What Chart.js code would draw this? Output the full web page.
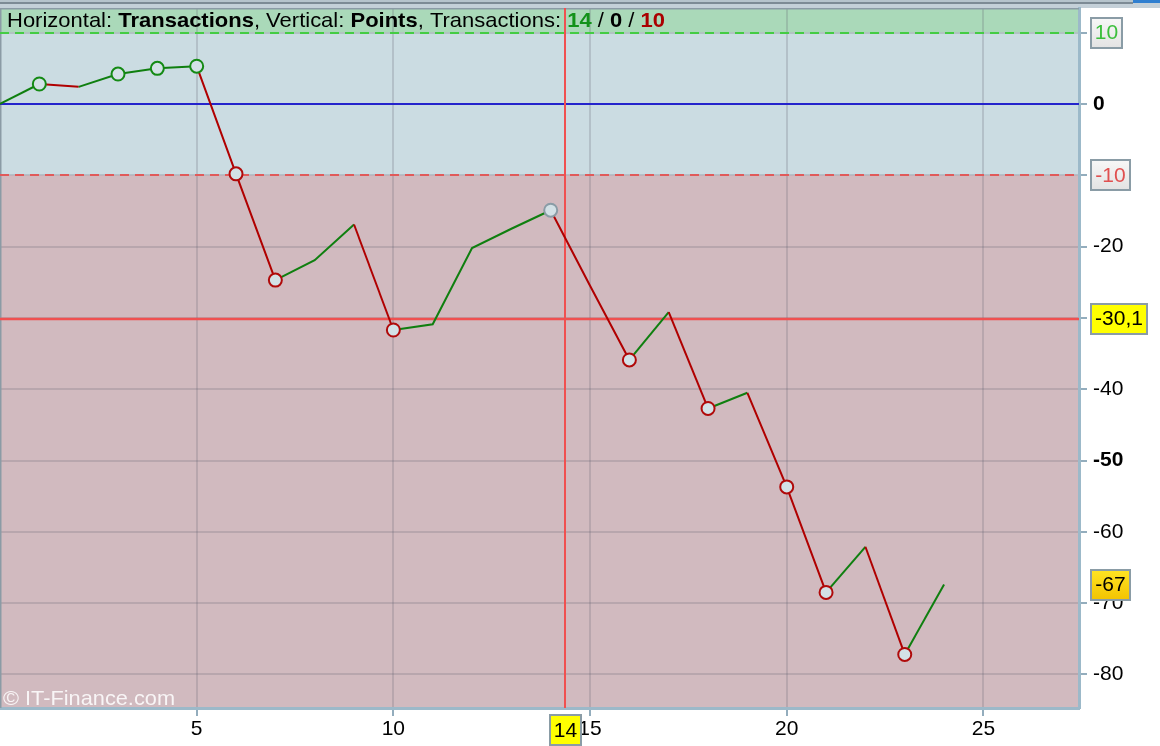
<!DOCTYPE html>
<html>
<head>
<meta charset="utf-8">
<script src="https://cdn.jsdelivr.net/npm/chart.js@4.4.1/dist/chart.umd.min.js"></script>
<style>
  html, body { margin: 0; padding: 0; background: #ffffff; }
  #wrap { width: 1160px; height: 746px; position: relative; }
</style>
</head>
<body>
<div id="wrap"><canvas id="c" width="1160" height="746"></canvas></div>
<script>
// ---- data ----
const transactions = [0,1,2,3,4,5,6,7,8,9,10,11,12,13,14,15,16,17,18,19,20,21,22,23,24];
const points = [0, 2.8, 2.4, 4.2, 5.0, 5.3, -9.8, -24.7, -21.9, -16.9, -31.7, -30.9, -20.2, -17.5, -14.9, -25.5, -35.9, -29.2, -42.7, -40.5, -53.7, -68.5, -62.1, -77.2, -67.4];
const markedTransactions = [1,3,4,5,6,7,10,14,16,18,20,21,23];
const xTickValues = [5,10,15,20,25];
const yTickValues = [10,0,-10,-20,-30,-40,-50,-60,-70,-80];
const boldYTicks = [0,-50];
const upperLevel = 10, zeroLevel = 0, lowerLevel = -10;
const crossX = 14.37, crossXLabel = '14';
const crossY = -30.1, crossYLabel = '-30,1';
const lastValueLabel = '-67', lastValue = -67.4;
const winCount = '14', evenCount = '0', lossCount = '10';

const FONT = '"Liberation Sans", Arial, sans-serif';
const FS = 21;
const GREEN = '#0f7f0f', RED = '#b00000';

const bgPlugin = {
  id: 'bg',
  beforeDraw(chart) {
    const ctx = chart.ctx, a = chart.chartArea, y = chart.scales.y;
    ctx.save();
    ctx.fillStyle = '#ffffff';
    ctx.fillRect(0, 0, chart.width, chart.height);
    // top window strip
    ctx.fillStyle = '#c4d0d8';
    ctx.fillRect(0, 0, chart.width, a.top);
    ctx.fillStyle = '#b6c4cc';
    ctx.fillRect(0, 0, chart.width, 2);
    ctx.fillStyle = '#7d8b95';
    ctx.fillRect(0, 2, 1133, 2);
    ctx.fillStyle = '#2f7fd0';
    ctx.fillRect(1133, 0, 27, 3);
    const yU = y.getPixelForValue(upperLevel), yL = y.getPixelForValue(lowerLevel);
    ctx.fillStyle = '#aad9b9';
    ctx.fillRect(a.left, a.top, a.right - a.left, yU - a.top);
    ctx.fillStyle = '#cbdce2';
    ctx.fillRect(a.left, yU, a.right - a.left, yL - yU);
    ctx.fillStyle = '#d1babf';
    ctx.fillRect(a.left, yL, a.right - a.left, a.bottom - yL);
    ctx.restore();
  },
  beforeDatasetsDraw(chart) {
    const ctx = chart.ctx, a = chart.chartArea, y = chart.scales.y, x = chart.scales.x;
    ctx.save();
    // borders
    ctx.strokeStyle = '#8b9ba5'; ctx.lineWidth = 1.5;
    ctx.beginPath(); ctx.moveTo(a.left + 0.75, a.top); ctx.lineTo(a.left + 0.75, a.bottom); ctx.stroke();
    ctx.beginPath(); ctx.moveTo(a.left, a.top + 0.75); ctx.lineTo(a.right, a.top + 0.75); ctx.stroke();
    const hline = (v, color, dash, w) => {
      const py = Math.round(y.getPixelForValue(v));
      ctx.strokeStyle = color; ctx.lineWidth = w; ctx.setLineDash(dash);
      ctx.beginPath(); ctx.moveTo(a.left, py); ctx.lineTo(a.right, py); ctx.stroke();
    };
    hline(upperLevel, '#44cc44', [9, 6], 2);
    hline(lowerLevel, '#e05a5a', [9, 6], 2);
    hline(zeroLevel, '#2424cc', [], 2);
    hline(crossY, '#f05050', [], 2.5);
    ctx.setLineDash([]);
    const px = Math.round(x.getPixelForValue(crossX));
    ctx.strokeStyle = '#f05050'; ctx.lineWidth = 2;
    ctx.beginPath(); ctx.moveTo(px, a.top); ctx.lineTo(px, a.bottom); ctx.stroke();
    // watermark
    ctx.font = '21px ' + FONT;
    ctx.fillStyle = 'rgba(255,255,255,0.85)';
    ctx.textBaseline = 'alphabetic';
    const wm = '\u00A9 IT-Finance.com';
    const w = ctx.measureText(wm).width;
    ctx.save();
    ctx.translate(3, 705);
    ctx.scale(172 / w, 1);
    ctx.fillText(wm, 0, 0);
    ctx.restore();
    ctx.restore();
  },
  afterDraw(chart) {
    const ctx = chart.ctx, a = chart.chartArea, y = chart.scales.y, x = chart.scales.x;
    ctx.save();
    // header
    const parts = [
      ['Horizontal: ', false, '#000'], ['Transactions', true, '#000'], [', Vertical: ', false, '#000'],
      ['Points', true, '#000'], [', Transactions: ', false, '#000'], [winCount, true, '#12921a'],
      [' / ', false, '#000'], [evenCount, true, '#000'], [' / ', false, '#000'], [lossCount, true, '#aa0000']
    ];
    let total = 0;
    parts.forEach(p => { ctx.font = (p[1] ? 'bold ' : '') + '21px ' + FONT; total += ctx.measureText(p[0]).width; });
    ctx.translate(7, 27);
    ctx.scale(658 / total, 1);
    let cx = 0;
    ctx.textBaseline = 'alphabetic';
    parts.forEach(p => {
      ctx.font = (p[1] ? 'bold ' : '') + '21px ' + FONT;
      ctx.fillStyle = p[2];
      ctx.fillText(p[0], cx, 0);
      cx += ctx.measureText(p[0]).width;
    });
    ctx.restore();

    const box = (text, left, cy, colTop, colBot, textColor, minW, h) => {
      ctx.save();
      ctx.font = FS + 'px ' + FONT;
      const tw = ctx.measureText(text).width;
      const bw = Math.max(minW || 0, tw + 8);
      const top = Math.round(cy - h / 2);
      const g = ctx.createLinearGradient(0, top, 0, top + h);
      g.addColorStop(0, colTop); g.addColorStop(1, colBot);
      ctx.fillStyle = g;
      ctx.fillRect(left, top, bw, h);
      ctx.strokeStyle = '#8a9ca6'; ctx.lineWidth = 2;
      ctx.strokeRect(left + 1, top + 1, bw - 2, h - 2);
      ctx.fillStyle = textColor;
      ctx.textAlign = 'center'; ctx.textBaseline = 'middle';
      ctx.fillText(text, left + bw / 2, cy + 1);
      ctx.restore();
    };
    const bl = a.right + 11;
    box(String(upperLevel), bl, y.getPixelForValue(upperLevel), '#f8f8f8', '#e2e2e2', '#3cbf3c', 33, 32);
    box(String(lowerLevel), bl, y.getPixelForValue(lowerLevel), '#f8f8f8', '#e2e2e2', '#e05050', 41, 32);
    box(crossYLabel, bl, y.getPixelForValue(crossY), '#ffff00', '#ffff00', '#000', 58, 32);
    box(lastValueLabel, bl, y.getPixelForValue(lastValue), '#ffe524', '#f2c200', '#000', 41, 32);
    const px = x.getPixelForValue(crossX);
    box(crossXLabel, Math.round(px - 16.5), 730, '#ffff00', '#ffff00', '#000', 33, 32);
  }
};

const data = transactions.map((t, i) => ({ x: t, y: points[i] }));

const noPad = s => { s.paddingTop = 0; s.paddingBottom = 0; s.paddingLeft = 0; s.paddingRight = 0; };

new Chart(document.getElementById('c'), {
  type: 'line',
  data: {
    datasets: [{
      data: data,
      borderWidth: 2,
      tension: 0,
      borderColor: GREEN,
      segment: {
        borderColor: ctx => ctx.p1.parsed.y >= ctx.p0.parsed.y ? GREEN : RED
      },
      pointRadius: ctx => markedTransactions.includes(transactions[ctx.dataIndex]) ? 6.5 : 0,
      pointHoverRadius: 0,
      pointBorderWidth: 2,
      pointBackgroundColor: '#d3e1e6',
      pointBorderColor: ctx => {
        const t = transactions[ctx.dataIndex];
        if (t === Math.floor(crossX)) return '#8a9ca6';
        return points[ctx.dataIndex] > 0 ? '#148a14' : '#b00a0a';
      }
    }]
  },
  options: {
    responsive: false,
    devicePixelRatio: 1,
    animation: false,
    events: [],
    layout: { padding: { top: 8, left: 0, right: 0, bottom: 0 } },
    plugins: { legend: { display: false }, tooltip: { enabled: false } },
    scales: {
      x: {
        type: 'linear',
        min: 0, max: 27.43,
        afterBuildTicks: s => { s.ticks = xTickValues.map(v => ({ value: v })); },
        afterFit: s => { s.height = 38; noPad(s); },
        ticks: { color: '#000', font: { family: FONT, size: FS }, padding: 1, maxRotation: 0, autoSkip: false },
        grid: { color: 'rgba(95,95,110,0.22)', lineWidth: 2, tickLength: 8, tickColor: '#93adbd', tickWidth: 2 },
        border: { color: '#9cb9c9', width: 3 }
      },
      y: {
        position: 'right',
        min: -84.71, max: 13.46,
        afterBuildTicks: s => { s.ticks = yTickValues.map(v => ({ value: v })); },
        afterFit: s => { s.width = 81; noPad(s); },
        ticks: {
          color: '#000',
          padding: 6,
          autoSkip: false,
          font: ctx => ({ family: FONT, size: FS, weight: (ctx.tick && boldYTicks.includes(ctx.tick.value)) ? 'bold' : 'normal' }),
          callback: v => ([upperLevel, lowerLevel, Math.round(crossY)].includes(v) ? '' : String(v))
        },
        grid: { color: 'rgba(95,95,110,0.22)', lineWidth: 2, tickLength: 8, tickColor: '#93adbd', tickWidth: 2 },
        border: { color: '#9cb9c9', width: 3 }
      }
    }
  },
  plugins: [bgPlugin]
});
</script>
</body>
</html>
